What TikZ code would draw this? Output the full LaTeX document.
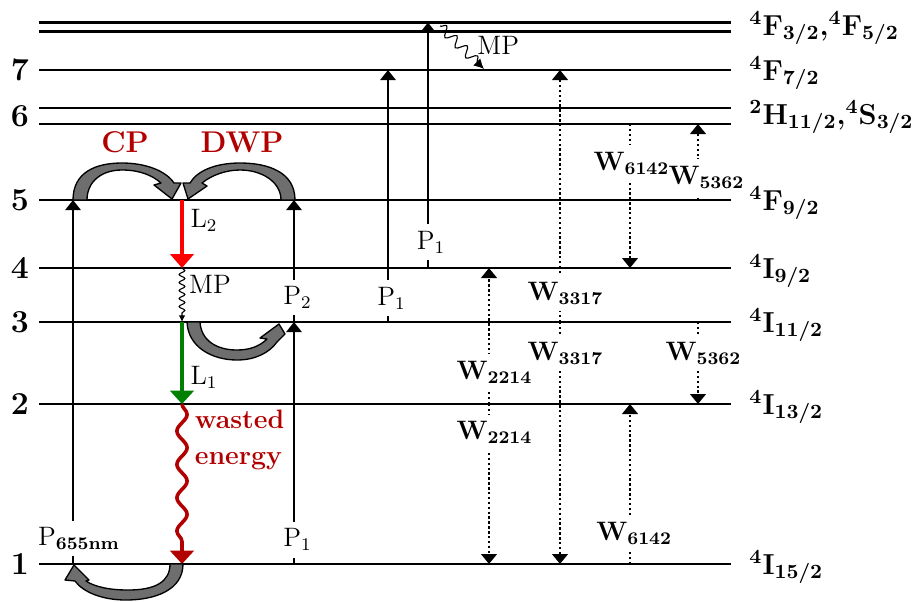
\RequirePackage{fix-cm}
\documentclass[tikz,border=0pt]{standalone}
\usepackage{xcolor}
\usepackage{tikz}
\usetikzlibrary{arrows.meta, decorations.pathmorphing}
\definecolor{laserred}{RGB}{255, 0, 0}
\definecolor{wastered}{RGB}{178, 0, 0}
\definecolor{lasergreen}{RGB}{0, 128, 0}
\definecolor{pumpgray}{RGB}{110, 110, 110}

\begin{document}
\begin{tikzpicture}[
    x=0.45pt, y=-0.45pt,
    level/.style={line width=1pt},
    pump/.style={line width=1.15pt, -{Triangle[width=6.8pt, length=4.5pt]}},
    transfer/.style={line width=1.15pt, dash pattern=on 1.1pt off 1.1pt, -{Triangle[width=7pt, length=4.5pt]}},
    plabel/.style={fill=white, inner xsep=1.5pt, inner ysep=3pt, font=\large, text=black},
    wlabel/.style={fill=white, inner xsep=0.5pt, inner ysep=3pt, font=\large\bfseries\boldmath, xshift=2.5pt},
    side/.style={right, inner sep=1pt, font=\large, text=black},
    term/.style={anchor=base west, inner sep=0pt, font=\fontsize{13}{15}\selectfont\bfseries\boldmath},
    proc/.style={font=\fontsize{13.5}{16}\selectfont\bfseries, text=wastered},
    fatarrow/.style={fill=pumpgray, draw=black, line width=0.6pt, line join=round},
]
    \useasboundingbox (0,0) rectangle (913,601);

    % Energy levels
    \foreach \n/\y in {8a/22.5, 8b/31.5, 7/70, 6a/108, 6b/124, 5/200, 4/268, 3/322, 2/404, 1/564} {
        \coordinate (lv\n) at (39,\y);
        \draw[level] (lv\n) -- (731,\y);
    }
    \foreach \n/\y in {7/70, 6/116, 5/200, 4/268, 3/322, 2/404, 1/564} {
        \node[font=\Large\bfseries, anchor=base] (n\n) at (20,\y+10) {\n};
    }

    % Term symbols
    \node[term] (t8) at (749,35) {$^4\mathbf{F}_{3/2}$,$^4\mathbf{F}_{5/2}$};
    \node[term] (t7) at (749,80) {$^4\mathbf{F}_{7/2}$};
    \node[term] (t6) at (749,124) {$^2\mathbf{H}_{11/2}$,$^4\mathbf{S}_{3/2}$};
    \node[term] (t5) at (749,210) {$^4\mathbf{F}_{9/2}$};
    \node[term] (t4) at (749,278) {$^4\mathbf{I}_{9/2}$};
    \node[term] (t3) at (749,332) {$^4\mathbf{I}_{11/2}$};
    \node[term] (t2) at (749,414) {$^4\mathbf{I}_{13/2}$};
    \node[term] (t1) at (749,574) {$^4\mathbf{I}_{15/2}$};

    % Columns
    \foreach \c/\x in {a/73, b/182, c/294, d/388, e/428, f/489, g/560, h/630, i/698}
        \coordinate (c\c) at (\x,0);

    % Pumping
    \draw[pump] (ca |- lv1) -- node[plabel, pos=0.07, xshift=2.7pt] (p655) {$\mathrm{P}_{\mathbf{655nm}}$} (ca |- lv5);
    \draw[pump] (cc |- lv1) -- node[plabel, pos=0.1, xshift=1.6pt] (p1a) {$\mathrm{P}_1$} (cc |- lv3);
    \draw[pump] (cc |- lv3) -- node[plabel, pos=0.2, xshift=1.6pt] (p2) {$\mathrm{P}_2$} (cc |- lv5);
    \draw[pump] (cd |- lv3) -- node[plabel, pos=0.095, xshift=1.6pt] (p1b) {$\mathrm{P}_1$} (cd |- lv7);
    \draw[pump] (ce |- lv4) -- node[plabel, pos=0.106, xshift=1.4pt] (p1c) {$\mathrm{P}_1$} (ce |- lv8a);

    % Laser and decay
    \draw[line width=1.8pt, laserred, -{Triangle[width=10.5pt, length=6.3pt]}]
        (cb |- lv5) -- node[side, pos=0.3, xshift=2pt] (ltwo) {$\mathrm{L}_2$} (cb |- lv4);
    \draw[line width=0.5pt, decorate, decoration={snake, amplitude=1.3pt, segment length=3.6pt, post length=3pt},
        -{Latex[length=3pt, width=3pt]}]
        (cb |- lv4) -- node[side, pos=0.31, xshift=2pt] (mpa) {MP} (cb |- lv3);
    \draw[line width=1.8pt, lasergreen, -{Triangle[width=10.5pt, length=6pt]}]
        (cb |- lv3) -- node[side, pos=0.67, xshift=2pt] (lone) {$\mathrm{L}_1$} (cb |- lv2);
    \draw[line width=1.6pt, wastered, decorate, decoration={snake, amplitude=2.3pt, segment length=15pt, post length=8pt},
        -{Triangle[width=10.5pt, length=6pt]}]
        (cb |- lv2) -- node[right, pos=0.225, xshift=4pt, inner sep=1pt, align=left, font=\large\bfseries]
        (waste) {wasted\\[2.5pt]energy} (cb |- lv1);

    % MP from the top levels
    \coordinate (mps) at (440,26);
    \coordinate (mpe) at (484,69);
    \draw[line width=0.5pt, decorate, decoration={snake, amplitude=2.2pt, segment length=6.5pt, post length=4pt},
        -{Latex[length=4.5pt, width=4.5pt]}] (mps) -- (mpe);
    \node[font=\large, anchor=west, inner sep=0pt] (mpb) at (477,45) {MP};

    % Energy transfer
    \draw[transfer] (cf |- lv2) -- node[wlabel, pos=0.235] (w2214a) {$\mathbf{W}_{2214}$} (cf |- lv4);
    \draw[transfer] (cf |- lv2) -- node[wlabel, pos=0.18] (w2214b) {$\mathbf{W}_{2214}$} (cf |- lv1);
    \draw[transfer] (cg |- lv3) -- node[wlabel, pos=0.115] (w3317a) {$\mathbf{W}_{3317}$} (cg |- lv7);
    \draw[transfer] (cg |- lv3) -- node[wlabel, pos=0.128] (w3317b) {$\mathbf{W}_{3317}$} (cg |- lv1);
    \draw[transfer] (ch |- lv6b) -- node[wlabel, pos=0.27, xshift=-1.8pt] (w6142a) {$\mathbf{W}_{6142}$} (ch |- lv4);
    \draw[transfer] (ch |- lv1) -- node[wlabel, pos=0.19, xshift=-0.6pt] (w6142b) {$\mathbf{W}_{6142}$} (ch |- lv2);
    \draw[transfer] (ci |- lv5) -- node[wlabel, pos=0.3, xshift=1.3pt] (w5362a) {$\mathbf{W}_{5362}$} (ci |- lv6b);
    \draw[transfer] (ci |- lv3) -- node[wlabel, pos=0.38] (w5362b) {$\mathbf{W}_{5362}$} (ci |- lv2);

    % Recycling arrows
    \filldraw[fatarrow] (73,200) .. controls (73,172) and (96,163) .. (122,163)
        .. controls (146,163) and (166,171) .. (174,183) -- (181,183) -- (172,199)
        -- (154,185) -- (161,183) .. controls (152,175) and (139,170) .. (122,170)
        .. controls (101,170) and (87,182) .. (87,200) -- cycle;
    \filldraw[fatarrow] (295,200) .. controls (295,172) and (268,163) .. (240,163)
        .. controls (215,163) and (197,171) .. (190,183) -- (183,183) -- (188,199)
        -- (207,186) -- (202,183) .. controls (212,175) and (226,170) .. (240,170)
        .. controls (262,170) and (281,182) .. (281,200) -- cycle;
    \filldraw[fatarrow] (187,322) .. controls (188,347) and (212,360) .. (237,360)
        .. controls (255,360) and (269,353) .. (277,342) -- (285,334) -- (279,324)
        -- (260,338) -- (267,339) .. controls (260,346) and (250,350) .. (237,350)
        .. controls (216,350) and (201,340) .. (200,322) -- cycle;
    \filldraw[fatarrow] (183,564) .. controls (183,590) and (155,600) .. (126,600)
        .. controls (102,600) and (83,592) .. (75,581) -- (65,580) -- (74,565)
        -- (89,580) -- (86,581) .. controls (95,587) and (110,590) .. (128,590)
        .. controls (155,590) and (170,582) .. (170,564) -- cycle;
    \node[proc] (cp) at (125,142) {CP};
    \node[proc] (dwp) at (242,142) {DWP};
\end{tikzpicture}
\end{document}
